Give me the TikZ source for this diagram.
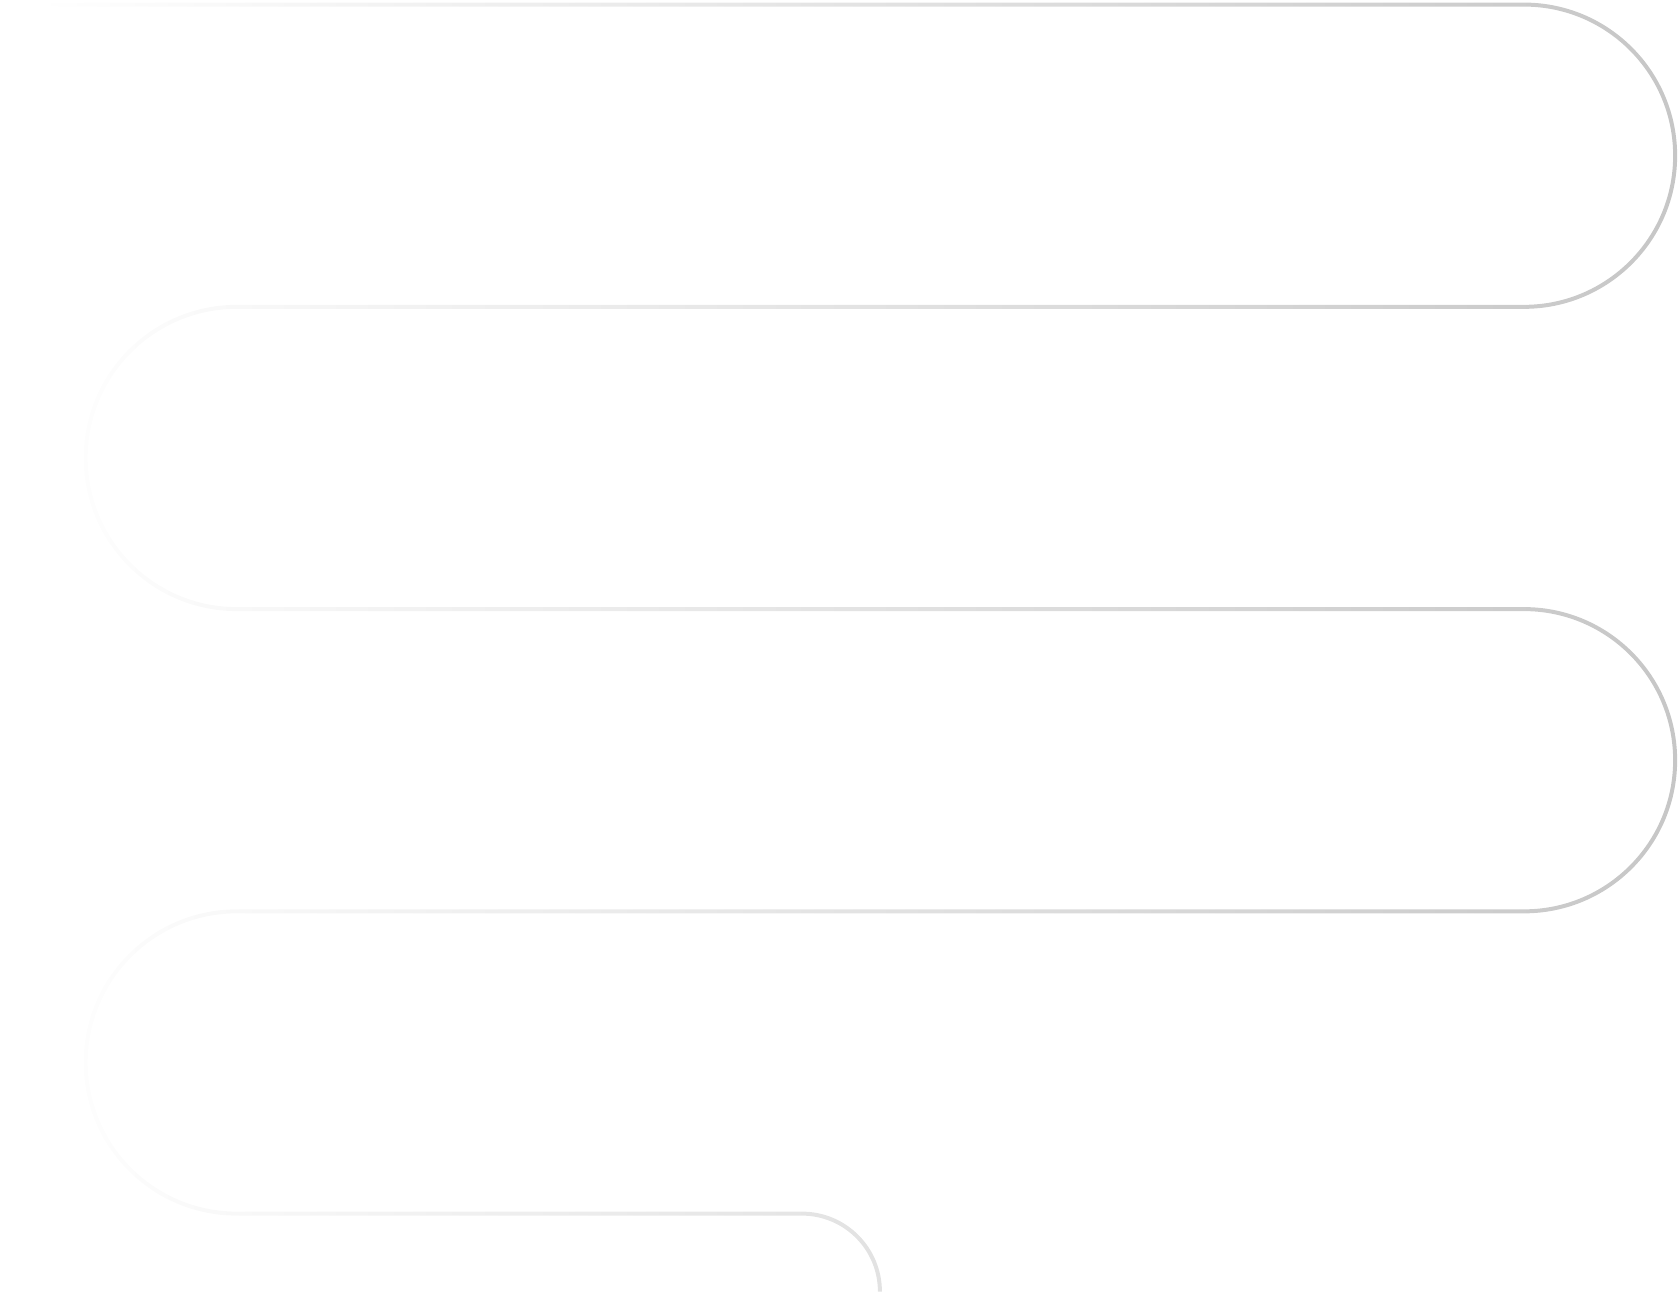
\documentclass[tikz,border=0pt]{standalone}
\usetikzlibrary{fadings}
\tikzfading[name=fade to right, left color=transparent!100, right color=transparent!0]
\definecolor{trait}{RGB}{198,198,198}
\begin{document}
\begin{tikzpicture}[x=0.5pt,y=0.5pt]
		\tikzstyle{serpent}=[draw=trait, line width=2pt, path fading=fade to right]
		\useasboundingbox (0,0) rectangle (1680,1293);
		\coordinate (debut) at (40,1290); % haut gauche
		\coordinate (fin) at (804,80);    % bas, avant le dernier arc
		\draw[serpent] (debut) -- (1527,1290)
			arc[start angle=90, end angle=-90, radius=151.25] -- (238,987.5)
			arc[start angle=90, end angle=270, radius=151.25] -- (1527,685)
			arc[start angle=90, end angle=-90, radius=151.25] -- (238,382.5)
			arc[start angle=90, end angle=270, radius=151.25] -- (fin)
			arc[start angle=90, end angle=0, radius=78];
	\end{tikzpicture}
\end{document}
